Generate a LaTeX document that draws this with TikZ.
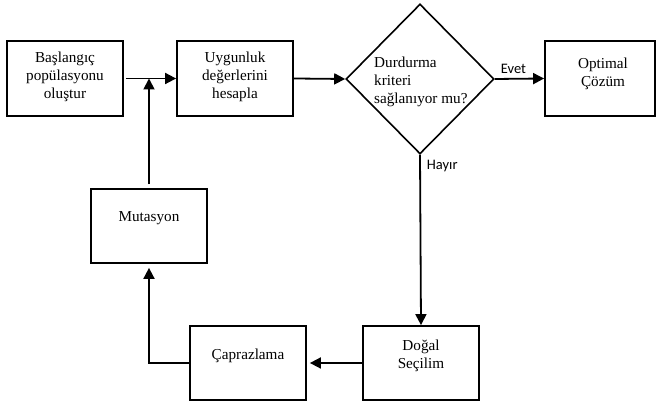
\documentclass[tikz,border=0pt]{standalone}
\usepackage{fontspec}
\setmainfont{Liberation Serif}
\newfontfamily\branchfont{Carlito}
\usetikzlibrary{arrows.meta,positioning,shapes.geometric}
\tikzset{
  stepbox/.style={draw,line width=1.8pt,minimum width=116pt,minimum height=75pt,inner sep=0pt},
  decisionbox/.style={draw,diamond,line width=1.6pt,minimum width=148pt,minimum height=150pt,inner sep=0pt},
  steptext/.style={font=\fontsize{15.2}{18}\selectfont,align=center,inner sep=0pt},
  branchlabel/.style={font=\branchfont\fontsize{14.5}{17}\selectfont,inner sep=0pt,anchor=base west},
  flowarrow/.style={-{Triangle[length=11pt,width=11pt]},line width=1.8pt}
}

\begin{document}
\begin{tikzpicture}[x=1pt,y=1pt]
  \useasboundingbox (0,0) rectangle (656,403);
  % boxes
  \node[stepbox] (start) at (65,324.5) {};
  \node[stepbox] (fit) at (235,324.5) {};
  \node[decisionbox] (test) at (420,324) {};
  \node[stepbox,minimum width=110pt] (opt) at (600,324.5) {};
  \node[stepbox,minimum height=74pt] (mut) at (149,177) {};
  \node[stepbox,minimum height=74pt] (cross) at (248,40) {};
  \node[stepbox,minimum height=74pt] (sel) at (421,40) {};
  % texts
  \node[steptext,below=11.5pt of start.north] (starttext) {Başlangıç\\popülasyonu\\oluştur};
  \node[steptext,below=11.5pt of fit.north] (fittext) {Uygunluk\\değerlerini\\hesapla};
  \node[steptext,align=left,anchor=north west] (testtext) at (374,346.3) {Durdurma\\kriteri\\sağlanıyor mu?};
  \node[steptext,below=18pt of opt.north,xshift=3pt] (opttext) {Optimal\\Çözüm};
  \node[steptext,below=23.5pt of mut.north] (muttext) {Mutasyon};
  \node[steptext,below=23.5pt of cross.north] (crosstext) {Çaprazlama};
  \node[steptext,below=14.5pt of sel.north] (seltext) {Doğal\\Seçilim};
  \node[branchlabel] (yes) at (500.7,329) {Evet};
  \node[branchlabel] (no) at (426.7,233) {Hayır};
  % connectors
  \draw[flowarrow] ([xshift=2pt]start.east) -- (fit.west);
  \draw[flowarrow] (fit.east) -- (test.west);
  \draw[flowarrow] (test.east) -- (opt.west);
  \draw[flowarrow] (test.south) -- (sel.north);
  \draw[flowarrow] (sel.west) -- ([xshift=3pt]cross.east);
  \draw[flowarrow] (cross.west) -| ([yshift=-4pt]mut.south);
  \draw[flowarrow] ([yshift=4pt]mut.north) -- (mut.north |- start.east);
\end{tikzpicture}
\end{document}
